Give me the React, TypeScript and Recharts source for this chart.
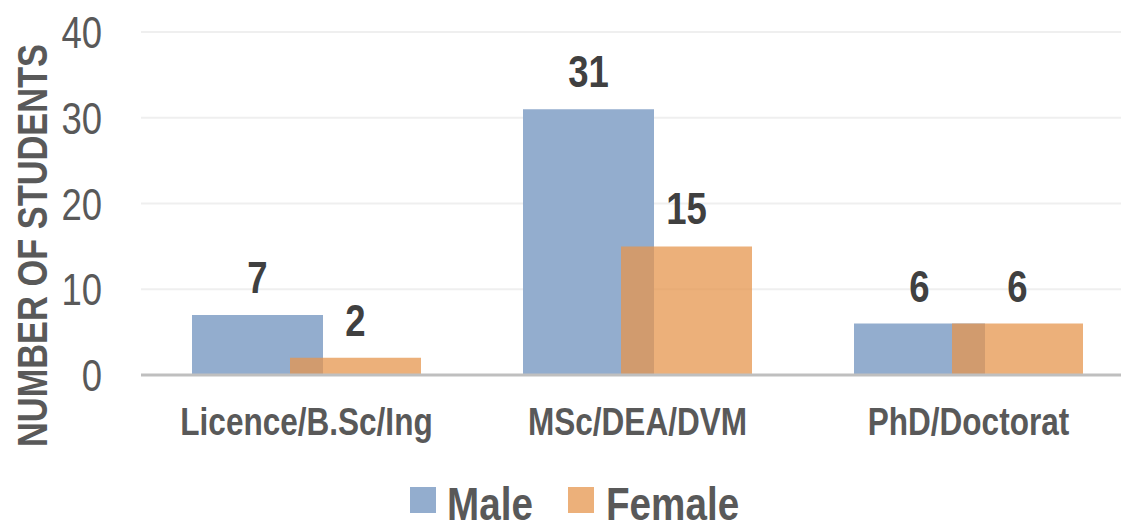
import React from 'react';
import { BarChart, Bar, XAxis, YAxis, CartesianGrid, Legend, LabelList } from 'recharts';

const categories = ['Licence/B.Sc/Ing', 'MSc/DEA/DVM', 'PhD/Doctorat'];
const maleValues = [7, 31, 6];
const femaleValues = [2, 15, 6];
const yTicks = [0, 10, 20, 30, 40];
const seriesNames = ['Male', 'Female'];

const data = categories.map((c, i) => ({ category: c, Male: maleValues[i], Female: femaleValues[i] }));

const FONT = "'Liberation Sans', Arial, sans-serif";
const MALE = '#93ADCE';
const FEMALE = '#E5954E';
const FEMALE_OPACITY = 0.75;
const NARROW = 0.83;

const NText = ({ x, y, scale = NARROW, rotate = 0, children, ...rest }: any) => (
  <text
    transform={`translate(${x},${y}) rotate(${rotate}) scale(${scale},1)`}
    x={0}
    y={0}
    fontFamily={FONT}
    {...rest}
  >
    {children}
  </text>
);

const YTitle = (props: any) => {
  const vb = props.viewBox || { x: 0, y: 0, width: 0, height: 0 };
  const bx = vb.x + 47;
  const cy = vb.y + vb.height / 2 + 42;
  return (
    <NText x={bx} y={cy} rotate={-90} scale={0.8} textAnchor="middle" fill="#595959" fontWeight="bold" fontSize={43}>
      NUMBER OF STUDENTS
    </NText>
  );
};

const XTick = (p: any) => (
  <NText x={p.x} y={p.y + 54} textAnchor="middle" fill="#595959" fontWeight="bold" fontSize={38}>
    {p.payload.value}
  </NText>
);

const YTick = (p: any) => (
  <NText x={p.x} y={p.y + 16} textAnchor="end" fill="#595959" fontSize={44}>
    {p.payload.value}
  </NText>
);

const ValueLabel = (p: any) => (
  <NText x={p.x + p.width / 2} y={p.y - 22} textAnchor="middle" fill="#404040" fontWeight="bold" fontSize={44}>
    {p.value}
  </NText>
);

const LegendContent = () => (
  <svg width={1134} height={60} style={{ display: 'block' }}>
    <rect x={410} y={25} width={26} height={26} fill={MALE} />
    <NText x={447} y={58} scale={0.84} fill="#595959" fontWeight="bold" fontSize={46}>
      {seriesNames[0]}
    </NText>
    <rect x={568} y={25} width={26} height={26} fill={FEMALE} fillOpacity={FEMALE_OPACITY} />
    <NText x={606} y={58} scale={0.84} fill="#595959" fontWeight="bold" fontSize={46}>
      {seriesNames[1]}
    </NText>
  </svg>
);

export default function App() {
  return (
    <div style={{ position: 'absolute', left: 0, top: 0, width: 1121, height: 522, overflow: 'hidden', background: '#fff' }}>
      <BarChart
        width={1134}
        height={522}
        data={data}
        margin={{ top: 32, right: 0, bottom: 0, left: 0 }}
        barSize={131}
        barGap={-33}
      >
        <CartesianGrid vertical={false} stroke="#EFEFEF" strokeWidth={2} />
        <XAxis
          dataKey="category"
          height={87}
          tickLine={false}
          axisLine={{ stroke: '#BFBFBF', strokeWidth: 3 }}
          tickMargin={0}
          tick={XTick}
        />
        <YAxis
          width={141}
          domain={[0, 40]}
          ticks={yTicks}
          tickLine={false}
          axisLine={false}
          tickMargin={33}
          tick={YTick}
          label={{ content: YTitle }}
        />
        <Legend verticalAlign="bottom" height={60} content={LegendContent} />
        <Bar dataKey="Male" fill={MALE} isAnimationActive={false}>
          <LabelList dataKey="Male" content={ValueLabel} />
        </Bar>
        <Bar dataKey="Female" fill={FEMALE} fillOpacity={FEMALE_OPACITY} isAnimationActive={false}>
          <LabelList dataKey="Female" content={ValueLabel} />
        </Bar>
      </BarChart>
    </div>
  );
}
